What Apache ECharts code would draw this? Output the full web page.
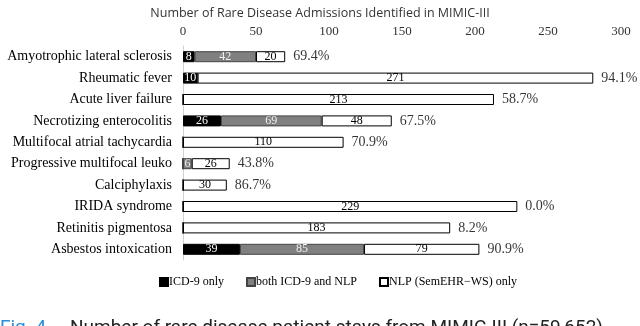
<!DOCTYPE html>
<html>
<head>
<meta charset="utf-8">
<script src="https://cdn.jsdelivr.net/npm/echarts@6/dist/echarts.min.js"></script>
<style>html,body{margin:0;padding:0;background:#fff}#c{width:640px;height:326px}</style>
</head>
<body>
<div id="c"></div>
<script>
const categories = ["Amyotrophic lateral sclerosis","Rheumatic fever","Acute liver failure","Necrotizing enterocolitis","Multifocal atrial tachycardia","Progressive multifocal leuko","Calciphylaxis","IRIDA syndrome","Retinitis pigmentosa","Asbestos intoxication"];
const icdOnly = [8,10,0,26,0,0,0,0,0,39];
const bothIcdNlp = [42,0,0,69,0,6,0,0,0,85];
const nlpOnly = [20,271,213,48,110,26,30,229,183,79];
const percentLabels = ["69.4%","94.1%","58.7%","67.5%","70.9%","43.8%","86.7%","0.0%","8.2%","90.9%"];
const xTicks = [0,50,100,150,200,250,300];

const serif = '"Liberation Serif","DejaVu Serif",serif';
const totals = categories.map((c,i)=>[icdOnly[i]+bothIcdNlp[i]+nlpOnly[i], i]);
const fmt = p => (p.value ? String(p.value) : '');

const chart = echarts.init(document.getElementById('c'));
chart.setOption({
  animation:false,
  title:{text:'Number of Rare Disease Admissions Identified in MIMIC-III',left:'center',top:2,
    textStyle:{fontFamily:'"Open Sans",sans-serif',fontSize:12.5,fontWeight:'normal',color:'#333'}},
  grid:{left:183,right:19,top:46,bottom:66},
  legend:{data:['ICD-9 only','both ICD-9 and NLP','NLP (SemEHR\u2212WS) only'],bottom:33,left:154,
    icon:'rect',itemWidth:8,itemHeight:8,itemGap:22,
    textStyle:{fontFamily:serif,fontSize:12,color:'#000',padding:[0,0,0,-4]}},
  xAxis:{type:'value',position:'top',min:0,max:300,interval:50,
    axisLine:{show:false},axisTick:{show:false},splitLine:{show:false},
    axisLabel:{fontFamily:serif,fontSize:13,color:'#333',margin:8,
      formatter:v=>xTicks.includes(v)?String(v):''}},
  yAxis:{type:'category',data:categories,inverse:true,
    axisLine:{show:true,lineStyle:{color:'#d0d0d0'}},axisTick:{show:false},
    axisLabel:{fontFamily:serif,fontSize:14,color:'#000',margin:11}},
  graphic:[
    {type:'text',left:0,top:319,style:{text:'Fig. 4',fontFamily:'Roboto,sans-serif',fontSize:19,fill:'#2a8fd8'}},
    {type:'text',left:70,top:319,style:{text:'Number of rare disease patient stays from MIMIC-III (n=59,652)',fontFamily:'Roboto,sans-serif',fontSize:19,fill:'#222'}}
  ],
  series:[
    {name:'ICD-9 only',type:'bar',stack:'s',data:icdOnly,barWidth:11,
      itemStyle:{color:'#000',borderColor:'#000',borderWidth:1},
      label:{show:true,position:'inside',formatter:fmt,color:'#fff',fontFamily:serif,fontSize:12}},
    {name:'both ICD-9 and NLP',type:'bar',stack:'s',data:bothIcdNlp,barWidth:11,
      itemStyle:{color:'#808080',borderColor:'#444',borderWidth:1},
      label:{show:true,position:'inside',formatter:fmt,color:'#eee',fontFamily:serif,fontSize:12}},
    {name:'NLP (SemEHR\u2212WS) only',type:'bar',stack:'s',data:nlpOnly,barWidth:11,
      itemStyle:{color:'#fff',borderColor:'#000',borderWidth:1},
      label:{show:true,position:'inside',formatter:fmt,color:'#000',fontFamily:serif,fontSize:12}},
    {name:'pct',type:'scatter',data:totals,symbolSize:0,silent:true,
      label:{show:true,position:'right',distance:8,formatter:p=>percentLabels[p.dataIndex],
        color:'#000',fontFamily:serif,fontSize:14}}
  ]
});
</script>
</body>
</html>
